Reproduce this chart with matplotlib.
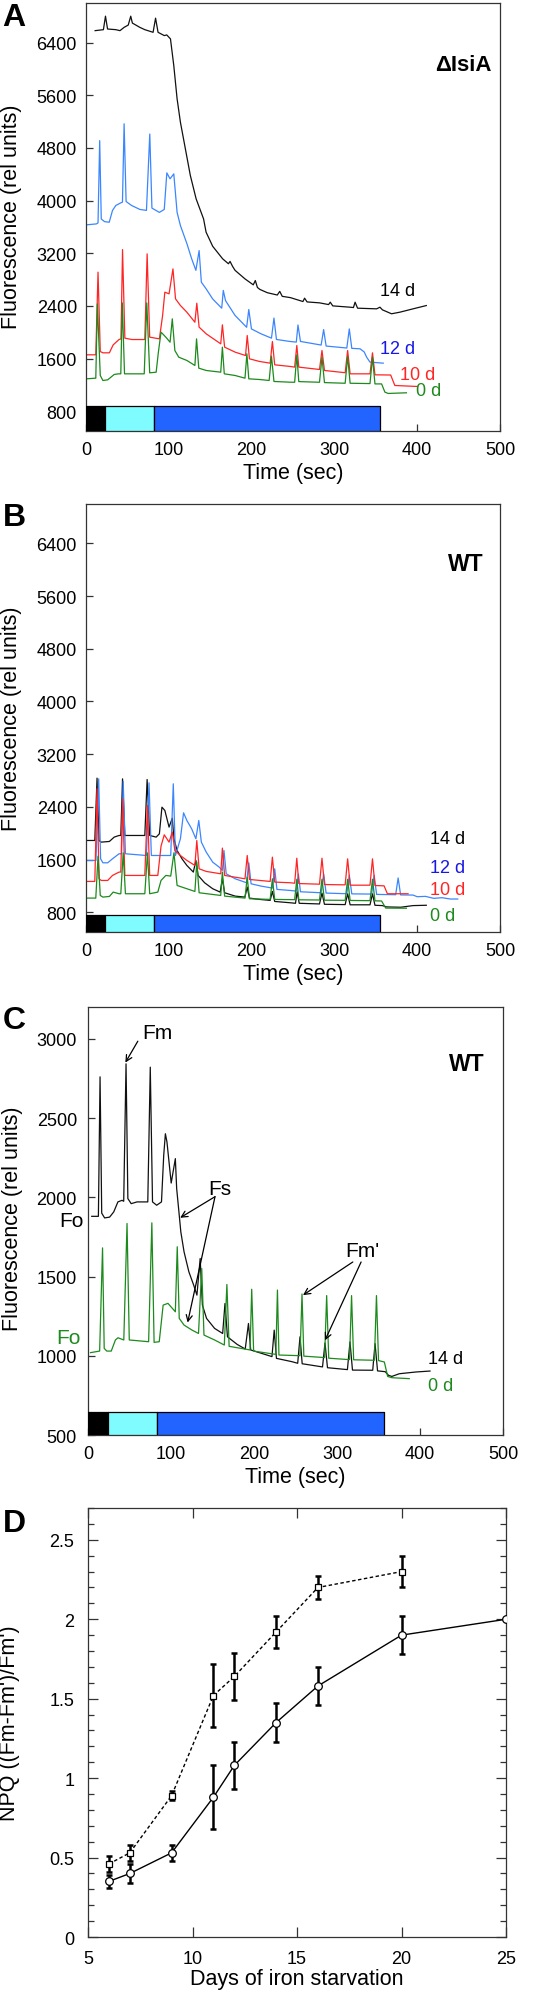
import numpy as np
import matplotlib
matplotlib.use('Agg')
import matplotlib.pyplot as plt
from matplotlib.ticker import MultipleLocator, FuncFormatter

plt.rcParams['font.family'] = ['Liberation Sans', 'DejaVu Sans']

# ---- panel A (delta IsiA) traces, time in s, fluorescence in rel units
a14_t = [11, 21, 23.5, 26, 36, 41, 46, 51, 54, 56, 65, 71, 81, 84, 87, 94.5, 97.5, 102, 106, 110, 114, 120,
         126, 133, 142, 145, 153, 165, 172, 174, 177, 180, 192, 202, 204.5, 207, 210, 219, 231, 234, 237, 247,
         262, 264, 267, 282, 293, 295, 298, 319, 323, 325, 328, 351, 355, 358, 369, 379, 395, 411]
a14_f = [6580, 6595, 6800, 6605, 6595, 6580, 6630, 6665, 6800, 6695, 6630, 6595, 6555, 6770, 6555, 6505, 6515,
         6455, 6050, 5545, 5190, 4785, 4380, 4025, 3720, 3520, 3305, 3115, 3040, 3075, 3000, 2940, 2810, 2720,
         2785, 2680, 2650, 2600, 2565, 2620, 2545, 2525, 2466, 2517, 2460, 2446, 2420, 2456, 2400, 2380, 2375,
         2456, 2365, 2355, 2380, 2340, 2280, 2304, 2355, 2405]

a12_t = [0, 12.5, 14.5, 16.5, 18.4, 22.3, 28, 32, 36, 42, 44, 46, 48.4, 55, 65, 73, 77, 79.6, 88.6, 94.5, 97.6,
         101.5, 106, 110, 114, 122, 127.6, 132.7, 136.6, 139.3, 145, 153, 163.9, 165.8, 168.5, 180, 194, 196.6,
         199.8, 211.5, 224, 227, 230, 246, 254, 256, 259, 284, 287, 290, 315, 318, 321, 331, 336, 339, 343, 359]
a12_f = [3630, 3645, 3660, 4910, 3720, 3680, 3670, 3850, 3925, 3965, 3975, 5165, 3985, 3925, 3865, 3850, 5010,
         3885, 3820, 3865, 4420, 4330, 4405, 3820, 3620, 3340, 3115, 2940, 3240, 2760, 2660, 2505, 2365, 2635,
         2480, 2255, 2075, 2345, 2050, 1975, 1910, 2215, 1890, 1860, 1850, 2110, 1860, 1805, 2040, 1790, 1760,
         2050, 1755, 1748, 1700, 1620, 1546, 1530]

a10_t = [0, 11.8, 14.5, 17.2, 20.4, 28.2, 32.8, 39.9, 42.2, 44.1, 46.9, 55.4, 71, 73.8, 76.9, 88.6, 92.5, 95.2,
         100.3, 105, 108.1, 114, 121.8, 131.5, 133.8, 136.6, 145.2, 156.9, 162.7, 164.7, 167.4, 180.2, 192.7,
         194.7, 197.4, 209.5, 222.4, 225.1, 227.9, 246.6, 252, 254.6, 257, 282, 285, 288, 313, 316, 319, 343,
         346, 349, 368, 373, 400]
a10_f = [1657, 1657, 2912, 1707, 1687, 1687, 1808, 1889, 1899, 3255, 1910, 1889, 1889, 3190, 1925, 1899, 2254,
         2608, 2583, 2962, 2507, 2406, 2304, 2152, 2441, 2077, 1975, 1874, 1824, 2112, 1773, 1697, 1646, 1950,
         1596, 1556, 1530, 1859, 1505, 1480, 1470, 1799, 1470, 1434, 1723, 1419, 1385, 1723, 1368, 1368, 1687,
         1353, 1350, 1191, 1176]

a0_t = [0, 11.8, 13.7, 17.2, 20.4, 26.2, 34, 39, 42, 43.8, 46.5, 70.3, 73.4, 76.9, 84.7, 87.4, 90.6, 96.4, 101.5,
        104.2, 107.3, 112, 121.8, 131.5, 133.5, 136.2, 145.2, 162.7, 164.7, 167, 180, 192, 194.3, 196.6, 209.5,
        221.2, 224, 227, 246.6, 252, 254.6, 257, 282, 285, 288, 313, 316, 319, 343, 346, 349, 357, 361, 365, 387]
a0_f = [1292, 1302, 2431, 1343, 1267, 1277, 1358, 1368, 1368, 2446, 1368, 1368, 2446, 1383, 1393, 1697, 2001,
        1925, 1849, 2203, 1722, 1621, 1571, 1495, 1899, 1454, 1419, 1393, 1773, 1368, 1343, 1302, 1672, 1292,
        1282, 1267, 1636, 1252, 1241, 1240, 1657, 1250, 1240, 1620, 1235, 1225, 1630, 1225, 1220, 1620, 1215,
        1215, 1090, 1070, 1080]

# ---- panel B (WT) traces
b14_t = [0, 10.6, 13.3, 15.7, 18.4, 28.2, 34, 39.9, 42, 44.1, 46.9, 71, 73.8, 76.9, 84.7, 88.6, 91.7, 95.2, 100.3,
         104.2, 106.2, 110, 115.9, 121.8, 129.6, 132.7, 135.4, 143.2, 153, 162, 164.7, 167.4, 180.2, 191.9, 194.7,
         197.4, 209.5, 222.4, 225.1, 227.9, 246.6, 253, 255, 257.5, 282, 285, 288, 313, 316, 319, 343, 346, 349,
         358, 363, 380, 395, 411]
b14_f = [1889, 1889, 2836, 1889, 1864, 1874, 1940, 1965, 1965, 2825, 1965, 1965, 2815, 1965, 1940, 1990, 2395,
         2345, 2092, 2228, 1915, 1737, 1611, 1510, 1409, 1586, 1358, 1247, 1156, 1105, 1307, 1095, 1044, 1029,
         1181, 1014, 994, 979, 1115, 963, 943, 935, 1110, 935, 925, 1090, 920, 915, 1080, 912, 912, 1080, 905,
         900, 880, 875, 900, 905]

b12_t = [0, 12, 15.3, 17.6, 20.4, 26.2, 32, 39.9, 43, 44.9, 47.6, 73, 76.1, 78.9, 102.3, 105.4, 108, 114, 117.8,
         121.8, 127.6, 132.7, 136.2, 139.3, 145.2, 153, 160.8, 164.7, 166.6, 169.3, 180.2, 193.9, 196.6, 199.4,
         211.5, 225.1, 227.9, 230.6, 246.6, 254, 256.5, 259, 284, 287, 290, 315, 318, 321, 345, 348, 351, 374,
         377, 380, 395, 400, 410, 420, 430, 440, 449]
b12_f = [1586, 1586, 2825, 1611, 1550, 1550, 1611, 1687, 1687, 2785, 1687, 1661, 2765, 1661, 1661, 2750, 1661,
         1915, 2309, 2193, 2066, 1915, 2193, 1864, 1712, 1560, 1485, 1434, 1737, 1383, 1307, 1247, 1550, 1231,
         1196, 1166, 1459, 1146, 1130, 1120, 1380, 1110, 1095, 1380, 1090, 1080, 1360, 1078, 1075, 1360, 1070,
         1065, 1320, 1062, 1060, 1035, 1040, 1010, 1020, 1000, 1000]

b10_t = [0, 10.6, 13.3, 15.7, 18.4, 26.2, 32, 39.9, 42, 44.1, 46.9, 71, 74.2, 76.9, 86.7, 90.6, 94.5, 100.3, 104.2,
         107.3, 114, 121.8, 131.5, 133.8, 136.6, 145.2, 162.7, 164.7, 167.4, 192, 194.7, 197.4, 222.4, 225.1,
         227.9, 246.6, 252, 254.6, 257, 282, 285, 288, 313, 316, 319, 343, 346, 349, 360, 364, 389]
b10_f = [1267, 1267, 2674, 1307, 1282, 1282, 1358, 1409, 1409, 2522, 1358, 1358, 2421, 1358, 1358, 1803, 1975,
         1864, 2016, 1737, 1661, 1586, 1510, 1889, 1459, 1419, 1383, 1773, 1358, 1307, 1661, 1297, 1267, 1636,
         1257, 1247, 1240, 1620, 1235, 1225, 1620, 1220, 1215, 1610, 1210, 1210, 1610, 1205, 1200, 1080, 1080]

b0_t = [0, 11.8, 14.5, 17.2, 20.4, 28.2, 32.8, 39.9, 42, 44.9, 47.6, 71, 74.2, 76.9, 86.7, 90.6, 96.4, 102.3,
        106.2, 110, 121.8, 131.5, 133.8, 136.6, 162.7, 164.7, 167.4, 192, 194.7, 197.4, 222.4, 225.1, 227.9, 252,
        254.6, 257, 282, 285, 288, 313, 316, 319, 343, 346, 349, 357, 362, 387]
b0_f = [1014, 1014, 1650, 1054, 1029, 1039, 1105, 1080, 1080, 1700, 1080, 1080, 1700, 1080, 1105, 1282, 1358,
        1348, 1702, 1206, 1156, 1115, 1560, 1095, 1054, 1409, 1044, 1014, 1333, 1004, 994, 1307, 994, 990, 1300,
        988, 985, 1300, 982, 980, 1300, 978, 975, 1300, 972, 970, 862, 860]

# ---- panel C (WT, 14 d vs 0 d)
c14_t = [4.5, 12.5, 14.5, 16.5, 20, 26, 31, 36, 41, 43, 45.8, 48, 52, 59, 72, 75, 77.7, 82.7, 88.5, 91.2, 93.2,
         95.1, 100.2, 105.2, 106.8, 109.9, 111.8, 115.7, 121.5, 127.3, 131.2, 135.1, 137.8, 142.8, 152.5, 162.2,
         165, 168, 179.7, 189.4, 193.3, 196, 208.8, 221.6, 224.3, 227, 245.7, 252.6, 255.4, 258, 282.5, 285.5,
         288.5, 312.5, 315.6, 318.6, 343, 345.8, 348.8, 358, 362, 366, 375, 395, 412]
c14_f = [1880, 1880, 2760, 1900, 1870, 1875, 1908, 1971, 1981, 1975, 2842, 1992, 1960, 1971, 1971, 2821, 1971,
         1950, 1971, 2265, 2401, 2349, 2090, 2244, 2055, 1887, 1782, 1656, 1530, 1446, 1383, 1614, 1320, 1236,
         1173, 1141, 1330, 1120, 1072, 1043, 1204, 1037, 1016, 995, 1162, 984, 963, 953, 1120, 950, 930, 1081,
         925, 913, 1088, 910, 909, 1077, 905, 900, 877, 870, 887, 898, 904]

c0_t = [3, 14, 17.5, 19.5, 22.6, 28, 33, 36.1, 43.1, 47, 49.7, 73, 76.9, 79.6, 85.8, 90.5, 96.3, 105.2, 107.5,
        109.9, 115.7, 125.4, 133.1, 137, 139.7, 152.5, 164.2, 167.3, 170, 195.2, 197.2, 199.5, 226.3, 228.2, 230,
        255.4, 257.8, 260, 285, 287.5, 290, 315, 317.5, 320, 345, 347.5, 350, 357, 361, 366, 387]
c0_f = [1020, 1030, 1681, 1047, 1030, 1030, 1100, 1114, 1100, 1835, 1100, 1089, 1839, 1085, 1089, 1320, 1331,
        1278, 1688, 1236, 1194, 1162, 1141, 1551, 1131, 1100, 1068, 1450, 1060, 1037, 1420, 1030, 1009, 1415,
        1005, 1001, 1390, 998, 989, 1380, 985, 976, 1380, 975, 972, 1380, 970, 961, 870, 862, 856]

# actinic light protocol: dark, low light, high light (s)
light_edges_ab = [0, 23, 82, 355]
light_edges_c = [0, 24.5, 83.5, 356]

# ---- panel D: NPQ vs days of iron starvation
days_sq = [6, 7, 9, 11, 12, 14, 16, 20]
npq_sq = [0.46, 0.53, 0.89, 1.52, 1.64, 1.92, 2.20, 2.30]
err_sq = [0.05, 0.05, 0.03, 0.20, 0.15, 0.10, 0.07, 0.10]
days_ci = [6, 7, 9, 11, 12, 14, 16, 20, 25]
npq_ci = [0.35, 0.40, 0.53, 0.88, 1.08, 1.35, 1.58, 1.90, 2.00]
err_ci = [0.04, 0.06, 0.05, 0.20, 0.15, 0.12, 0.12, 0.12, 0.0]

BLACK = '#111111'
BLUE = '#3b86ff'
RED = '#ff2525'
GREEN = '#1d8a1d'
LBLUE = '#1818e6'
BAR_COLORS = ['#000000', '#7ffcff', '#2264ff']
SPINE = '#333333'
TICK_FS = 13
LABEL_FS = 15.5


def style_axes(ax, ypad):
    for s in ax.spines.values():
        s.set_linewidth(0.9)
        s.set_color(SPINE)
    ax.tick_params(direction='in', length=5, width=0.9, color=SPINE, labelsize=TICK_FS,
                   top=False, right=False)
    ax.tick_params(axis='y', pad=ypad)
    ax.tick_params(axis='x', pad=7)


def trace_panel(ax, traces, ylim, ystep, bar_top, edges, ypad):
    for t, f, c in traces:
        ax.plot(t, f, color=c, lw=0.9, zorder=2)
    segs = [(edges[i], edges[i + 1] - edges[i]) for i in range(len(edges) - 1)]
    ax.broken_barh(segs, (ylim[0], bar_top - ylim[0]), facecolors=BAR_COLORS,
                   edgecolor='black', linewidth=0.9, zorder=3)
    ax.set_xlim(0, 500)
    ax.set_ylim(*ylim)
    ax.xaxis.set_major_locator(MultipleLocator(100))
    ax.yaxis.set_major_locator(MultipleLocator(ystep))
    style_axes(ax, ypad)
    ax.set_xlabel('Time (sec)', fontsize=LABEL_FS)
    ax.set_ylabel('Fluorescence (rel units)', fontsize=LABEL_FS)


fig = plt.figure(figsize=(5.39, 19.99), dpi=100)
axA = fig.add_axes([0.1596, 0.7839, 0.768, 0.2141])
axB = fig.add_axes([0.1596, 0.5333, 0.768, 0.2141])
axC = fig.add_axes([0.1633, 0.2816, 0.770, 0.2141])
axD = fig.add_axes([0.1633, 0.0305, 0.7755, 0.2146])

# panel A
trace_panel(axA, [(a14_t, a14_f, BLACK), (a12_t, a12_f, BLUE), (a10_t, a10_f, RED), (a0_t, a0_f, GREEN)],
            (500, 7000), 800, 880, light_edges_ab, 6.5)
axA.set_yticks([800, 1600, 2400, 3200, 4000, 4800, 5600, 6400])
axA.text(355, 2636, '14 d', color='black', fontsize=13, va='center')
axA.text(355, 1755, '12 d', color=LBLUE, fontsize=13, va='center')
axA.text(379, 1361, '10 d', color=RED, fontsize=13, va='center')
axA.text(399, 1118, '0 d', color=GREEN, fontsize=13, va='center')
axA.text(0.911, 0.857, '\u0394IsiA', transform=axA.transAxes, fontsize=16, fontweight='bold',
         ha='center', va='center')

# panel B
trace_panel(axB, [(b14_t, b14_f, BLACK), (b12_t, b12_f, BLUE), (b10_t, b10_f, RED), (b0_t, b0_f, GREEN)],
            (500, 7000), 800, 750, light_edges_ab, 6.5)
axB.set_yticks([800, 1600, 2400, 3200, 4000, 4800, 5600, 6400])
axB.text(415, 1915, '14 d', color='black', fontsize=13, va='center')
axB.text(415, 1474, '12 d', color=LBLUE, fontsize=13, va='center')
axB.text(415, 1141, '10 d', color=RED, fontsize=13, va='center')
axB.text(415, 746, '0 d', color=GREEN, fontsize=13, va='center')
axB.text(0.918, 0.86, 'WT', transform=axB.transAxes, fontsize=16.5, fontweight='bold',
         ha='center', va='center')

# panel C
trace_panel(axC, [(c14_t, c14_f, BLACK), (c0_t, c0_f, GREEN)],
            (500, 3200), 500, 645, light_edges_c, 8)
axC.set_yticks([500, 1000, 1500, 2000, 2500, 3000])
axC.text(410, 985, '14 d', color='black', fontsize=13, va='center')
axC.text(410, 814, '0 d', color=GREEN, fontsize=13, va='center')
axC.text(0.913, 0.869, 'WT', transform=axC.transAxes, fontsize=16.5, fontweight='bold',
         ha='center', va='center')
axC.text(-20.5, 1852, 'Fo', color='black', fontsize=15, ha='center', va='center')
axC.text(-24, 1117, 'Fo', color=GREEN, fontsize=15, ha='center', va='center')

arrow = dict(arrowstyle='->', lw=0.9, color='black', shrinkA=0, shrinkB=0, mutation_scale=11)
axC.text(84, 3042, 'Fm', fontsize=15, ha='center', va='center')
axC.annotate('', xy=(45, 2850), xytext=(60, 2985), arrowprops=arrow)
axC.text(159, 2054, 'Fs', fontsize=15, ha='center', va='center')
axC.annotate('', xy=(111, 1871), xytext=(153, 2004), arrowprops=arrow)
axC.annotate('', xy=(120, 1210), xytext=(153, 2004), arrowprops=arrow)
axC.text(330, 1662, "Fm'", fontsize=15, ha='center', va='center')
axC.annotate('', xy=(259, 1383), xytext=(319, 1592), arrowprops=arrow)
axC.annotate('', xy=(285.5, 1098), xytext=(329, 1592), arrowprops=arrow)

# panel D
axD.plot(days_sq, npq_sq, color='black', lw=1, ls=(0, (2.5, 1.8)), zorder=2)
axD.plot(days_ci, npq_ci, color='black', lw=1, zorder=2)
for d, v, e in [(days_sq, npq_sq, err_sq), (days_ci, npq_ci, err_ci)]:
    keep = [i for i in range(len(d)) if e[i] > 0]
    axD.errorbar([d[i] for i in keep], [v[i] for i in keep], yerr=[e[i] for i in keep], fmt='none',
                 ecolor='black', elinewidth=1.8, capsize=2.2, capthick=1.8, zorder=3)
axD.plot(days_sq, npq_sq, 's', ms=4.5, mfc='white', mec='black', mew=0.9, zorder=4)
axD.plot(days_ci, npq_ci, 'o', ms=5.5, mfc='white', mec='black', mew=0.9, zorder=4)
axD.set_xlim(5, 25)
axD.set_ylim(0, 2.7)
axD.xaxis.set_major_locator(MultipleLocator(5))
axD.yaxis.set_major_locator(MultipleLocator(0.5))
axD.yaxis.set_minor_locator(MultipleLocator(0.1))
axD.yaxis.set_major_formatter(FuncFormatter(lambda v, p: '%g' % v))
for s in axD.spines.values():
    s.set_linewidth(0.9)
    s.set_color(SPINE)
axD.tick_params(which='both', direction='in', color=SPINE, width=0.9, top=True, right=True, labelsize=TICK_FS)
axD.tick_params(which='major', length=7)
axD.tick_params(which='minor', length=4)
axD.tick_params(axis='y', pad=10)
axD.tick_params(axis='x', pad=9)
axD.set_xlabel('Days of iron starvation', fontsize=LABEL_FS)
axD.set_ylabel("NPQ ((Fm-Fm')/Fm')", fontsize=LABEL_FS)

# label placement
for ax, h in [(axA, 428), (axB, 428), (axC, 428), (axD, 429)]:
    ax.xaxis.set_label_coords(0.5, -31.0 / h)
axA.yaxis.set_label_coords(-0.155, 0.503)
axB.yaxis.set_label_coords(-0.155, 0.50)
axC.yaxis.set_label_coords(-0.157, 0.507)
axD.yaxis.set_label_coords(-0.163, 0.50)

# panel letters
for letter, y in [('A', 0.991), ('B', 0.741), ('C', 0.489), ('D', 0.2376)]:
    fig.text(0.026, y, letter, fontsize=23, fontweight='bold', ha='center', va='center')

fig.savefig('out.png', dpi=100)
